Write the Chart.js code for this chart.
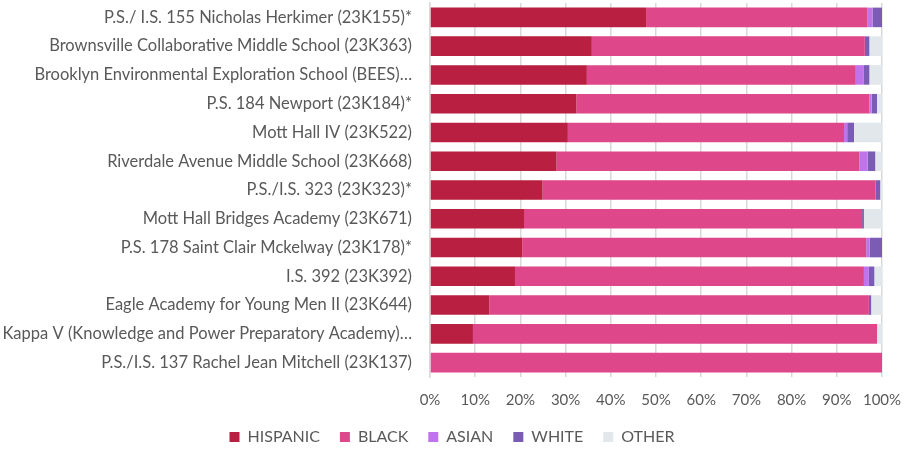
<!DOCTYPE html>
<html>
<head>
<meta charset="utf-8">
<script src="https://cdn.jsdelivr.net/npm/chart.js@4"></script>
<style>
html,body{margin:0;padding:0;background:#fff;}
#wrap{width:904px;height:450px;}
</style>
</head>
<body>
<div id="wrap"><canvas id="c" width="904" height="450"></canvas></div>
<script>
const schools = [
  "P.S./ I.S. 155 Nicholas Herkimer (23K155)*",
  "Brownsville Collaborative Middle School (23K363)",
  "Brooklyn Environmental Exploration School (BEES)…",
  "P.S. 184 Newport (23K184)*",
  "Mott Hall IV (23K522)",
  "Riverdale Avenue Middle School (23K668)",
  "P.S./I.S. 323 (23K323)*",
  "Mott Hall Bridges Academy (23K671)",
  "P.S. 178 Saint Clair Mckelway (23K178)*",
  "I.S. 392 (23K392)",
  "Eagle Academy for Young Men II (23K644)",
  "Kappa V (Knowledge and Power Preparatory Academy)…",
  "P.S./I.S. 137 Rachel Jean Mitchell (23K137)"
];
const hispanic = [47.8, 35.8, 34.7, 32.4, 30.5, 28.0, 24.9, 20.8, 20.4, 18.8, 13.1, 9.5, 0];
const black    = [49.0, 60.4, 59.5, 64.8, 61.1, 67.0, 73.7, 74.8, 76.1, 77.2, 84.0, 89.4, 100];
const asian    = [1.1, 0, 1.8, 0.5, 0.7, 1.8, 0, 0, 0.8, 1.1, 0, 0, 0];
const white    = [2.1, 1.0, 1.2, 1.2, 1.5, 1.7, 1.0, 0.4, 2.7, 1.2, 0.5, 0, 0];
const other    = [0, 2.8, 2.8, 1.1, 6.2, 1.5, 0.4, 4.0, 0, 1.7, 2.4, 1.1, 0];
const xTicks = [0,10,20,30,40,50,60,70,80,90,100];

const FONT = "Lato, 'Open Sans', sans-serif";
const TXT = '#595959';
const GRID = '#D9D9D9';

new Chart(document.getElementById('c'), {
  type: 'bar',
  data: {
    labels: schools,
    datasets: [
      {label:'HISPANIC', data:hispanic, backgroundColor:'#B81F40'},
      {label:'BLACK', data:black, backgroundColor:'#DE478A'},
      {label:'ASIAN', data:asian, backgroundColor:'#C074EC'},
      {label:'WHITE', data:white, backgroundColor:'#7B5CB4'},
      {label:'OTHER', data:other, backgroundColor:'#E1E7EB'}
    ]
  },
  options: {
    indexAxis: 'y',
    responsive: false,
    animation: false,
    maintainAspectRatio: false,
    layout: {padding: {top: 3, right: 0, bottom: -5, left: 0}},
    datasets: {bar: {barPercentage: 0.68, categoryPercentage: 1.0, borderWidth: 0}},
    plugins: {
      tooltip: {enabled: false},
      legend: {
        position: 'bottom',
        labels: {
          boxWidth: 10, boxHeight: 10, padding: 20,
          color: TXT, font: {family: FONT, size: 16}
        }
      }
    },
    scales: {
      x: {
        stacked: true, min: 0, max: 100,
        afterBuildTicks: (s) => { s.ticks = xTicks.map(v => ({value: v})); },
        afterFit: (s) => { s.paddingRight = 22; s.paddingLeft = 0; s.height = 32; },
        ticks: {callback: v => v + '%', color: TXT, font: {family: FONT, size: 15}, padding: 14},
        grid: {color: GRID, lineWidth: 1.5, drawTicks: false},
        border: {display: false}
      },
      y: {
        stacked: true,
        afterFit: (s) => { s.width = 430; s.paddingTop = 0; s.paddingBottom = 0; },
        ticks: {color: TXT, font: {family: FONT, size: 16.5}, padding: 18, autoSkip: false},
        grid: {display: false, drawTicks: false},
        border: {display: true, color: GRID, width: 1.5}
      }
    }
  }
});
</script>
</body>
</html>
